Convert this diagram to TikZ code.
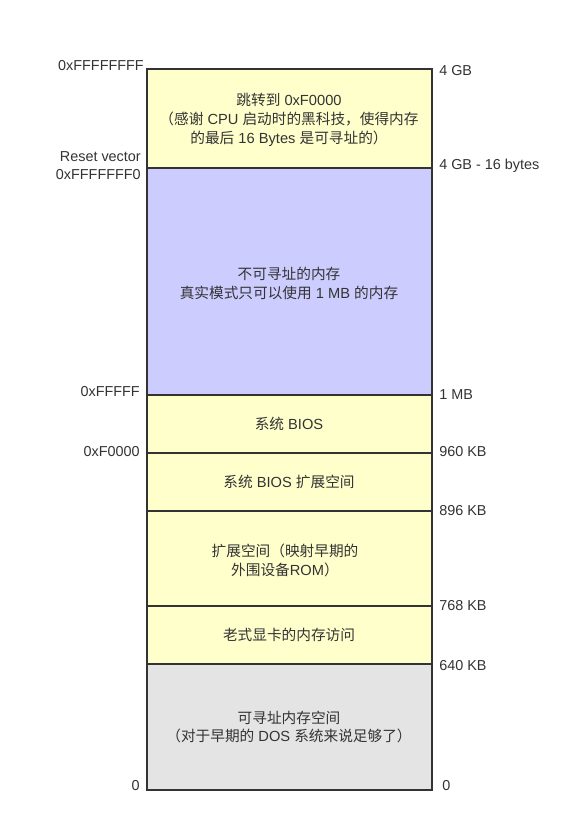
\documentclass[tikz,border=0pt]{standalone}
\usepackage{fontspec}
\setmainfont{Liberation Sans}
\newfontfamily\cjk{Noto Sans CJK SC}
\newcommand{\zh}[1]{{\cjk #1}}
\definecolor{ink}{HTML}{333333}
\definecolor{yel}{HTML}{FFFFCC}
\definecolor{blu}{HTML}{CCCCFF}
\definecolor{gry}{HTML}{E4E4E4}
\begin{document}
\begin{tikzpicture}[x=0.75pt,y=-0.75pt,
  region/.style={draw=ink,line width=2.2pt},
  txt/.style={text=ink,font=\fontsize{11}{14.2}\selectfont,align=center,inner sep=0pt},
  lbl/.style={text=ink,font=\fontsize{10.8}{12}\selectfont,inner sep=0pt}]
\useasboundingbox (0,0) rectangle (583,838);
% regions
\path[region,fill=yel] (147,69) rectangle (432,168);
\path[region,fill=blu] (147,168) rectangle (432,395);
\path[region,fill=yel] (147,395) rectangle (432,453);
\path[region,fill=yel] (147,453) rectangle (432,511);
\path[region,fill=yel] (147,511) rectangle (432,606);
\path[region,fill=yel] (147,606) rectangle (432,664);
\path[region,fill=gry] (147,664) rectangle (432,790);
% region texts
\node[txt] (t1) at (289,120) {\zh{跳转到} 0xF0000\\\zh{（感谢} CPU \zh{启动时的黑科技，使得内存}\\\zh{的最后} 16 Bytes \zh{是可寻址的）}};
\node[txt] (t2) at (289,283) {\zh{不可寻址的内存}\\\zh{真实模式只可以使用} 1 MB \zh{的内存}};
\node[txt] (t3) at (289,424) {\zh{系统} BIOS};
\node[txt] (t4) at (289,482) {\zh{系统} BIOS \zh{扩展空间}};
\node[txt] (t5) at (285,560) {\zh{扩展空间（映射早期的}\\\zh{外围设备}ROM\zh{）}};
\node[txt] (t6) at (289,635) {\zh{老式显卡的内存访问}};
\node[txt] (t7) at (289,727) {\zh{可寻址内存空间}\\\zh{（对于早期的} DOS \zh{系统来说足够了）}};
% left labels
\node[lbl,anchor=east] (l1) at (144,66) {0xFFFFFFFF};
\node[lbl,anchor=east] (l2) at (141,157) {Reset vector};
\node[lbl,anchor=east] (l3) at (141,175) {0xFFFFFFF0};
\node[lbl,anchor=east] (l4) at (140,392) {0xFFFFF};
\node[lbl,anchor=east] (l5) at (140,452) {0xF0000};
\node[lbl,anchor=east] (l6) at (140,786) {0};
% right labels
\node[lbl,anchor=west] (r1) at (439,71) {4 GB};
\node[lbl,anchor=west] (r2) at (439,166) {4 GB - 16 bytes};
\node[lbl,anchor=west] (r3) at (439,395) {1 MB};
\node[lbl,anchor=west] (r4) at (439,452) {960 KB};
\node[lbl,anchor=west] (r5) at (439,511) {896 KB};
\node[lbl,anchor=west] (r6) at (439,606) {768 KB};
\node[lbl,anchor=west] (r7) at (439,666) {640 KB};
\node[lbl,anchor=west] (r8) at (442,786) {0};
\end{tikzpicture}
\end{document}
